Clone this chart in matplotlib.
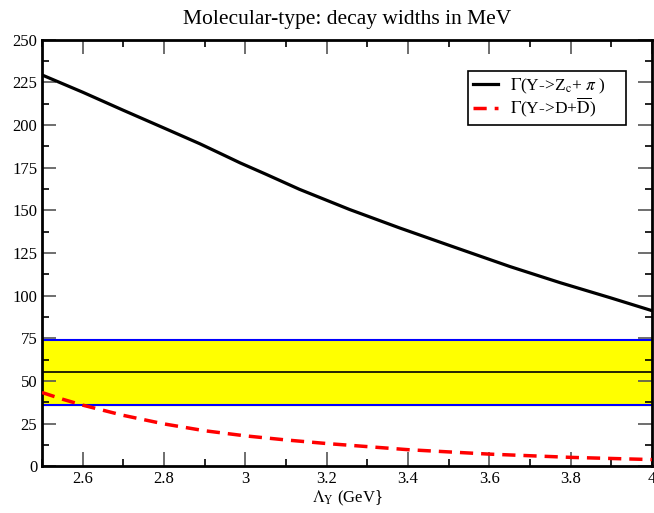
import numpy as np
import matplotlib
matplotlib.use("Agg")
import matplotlib.pyplot as plt
from matplotlib.ticker import MultipleLocator

plt.rcParams['font.family'] = ['Liberation Serif', 'DejaVu Serif']
plt.rcParams['mathtext.fontset'] = 'stix'

# Gamma(Y -> Zc + pi)
lam_zc = [2.50, 2.60, 2.70, 2.80, 2.888, 2.95, 2.987, 3.05, 3.133, 3.256, 3.379,
          3.502, 3.650, 3.774, 3.897, 4.00]
gam_zc = [229.3, 219.2, 208.6, 198.2, 189.0, 182.0, 177.8, 171.2, 162.3, 150.5, 139.7,
          129.4, 117.1, 107.6, 98.8, 91.2]

# Gamma(Y -> D + Dbar)
lam_dd = [2.50, 2.55, 2.60, 2.70, 2.80, 2.90, 3.00, 3.10, 3.20, 3.40, 3.60, 3.80, 4.00]
gam_dd = [43.3, 39.4, 35.9, 29.9, 24.9, 20.9, 17.9, 15.5, 13.4, 9.8, 7.2, 5.3, 4.0]

# experimental band
band_lo, band_mid, band_hi = 36.0, 55.3, 74.0

fig = plt.figure(figsize=(6.54, 5.13), dpi=100)
ax = fig.add_axes([0.0642, 0.0908, 0.933, 0.832])

ax.axhspan(band_lo, band_hi, color='#ffff00', zorder=1)
ax.axhline(band_lo, color='#0000ff', lw=1.5, zorder=2)
ax.axhline(band_hi, color='#0000ff', lw=1.5, zorder=2)
ax.axhline(band_mid, color='black', lw=1.2, zorder=2)

ax.plot(lam_zc, gam_zc, color='black', lw=2.3, zorder=3,
        label=r'$\Gamma$(Y->Z$_{\rm c}$+ $\pi$ )')
ax.plot(lam_dd, gam_dd, color='#ff0000', lw=2.5, dashes=(3.8, 2.3), zorder=3,
        label=r'$\Gamma$(Y->D+$\overline{\rm D}$)')

ax.set_xlim(2.5, 4.0)
ax.set_ylim(0, 250)
ax.xaxis.set_major_locator(MultipleLocator(0.2))
ax.xaxis.set_minor_locator(MultipleLocator(0.1))
ax.yaxis.set_major_locator(MultipleLocator(25))
ax.yaxis.set_minor_locator(MultipleLocator(12.5))
ax.set_xticks([2.6, 2.8, 3.0, 3.2, 3.4, 3.6, 3.8, 4.0])
ax.set_xticklabels(['2.6', '2.8', '3', '3.2', '3.4', '3.6', '3.8', '4'])
ax.tick_params(which='both', direction='in', top=True, right=True, labelsize=12)
ax.tick_params(which='major', length=10, width=1.2, color='#555555')
ax.tick_params(which='minor', length=5, width=1.2)
for s in ax.spines.values():
    s.set_linewidth(2)

ax.set_xlabel(r'$\Lambda_{\rm Y}$ (GeV}', fontsize=12, labelpad=1)
ax.set_title('Molecular-type: decay widths in MeV', fontsize=15.5, pad=11)

# legend box stretched to the width seen in the reference
leg = ax.legend(loc='upper left', bbox_to_anchor=(0.698, 0.5, 0.259, 0.426),
                mode='expand', fontsize=12.5,
                fancybox=False, framealpha=1, edgecolor='black',
                handlelength=1.45, handletextpad=0.65, borderpad=0.3,
                labelspacing=0.02, borderaxespad=0)
leg.get_frame().set_linewidth(1.2)

plt.savefig("out.png", dpi=100)
